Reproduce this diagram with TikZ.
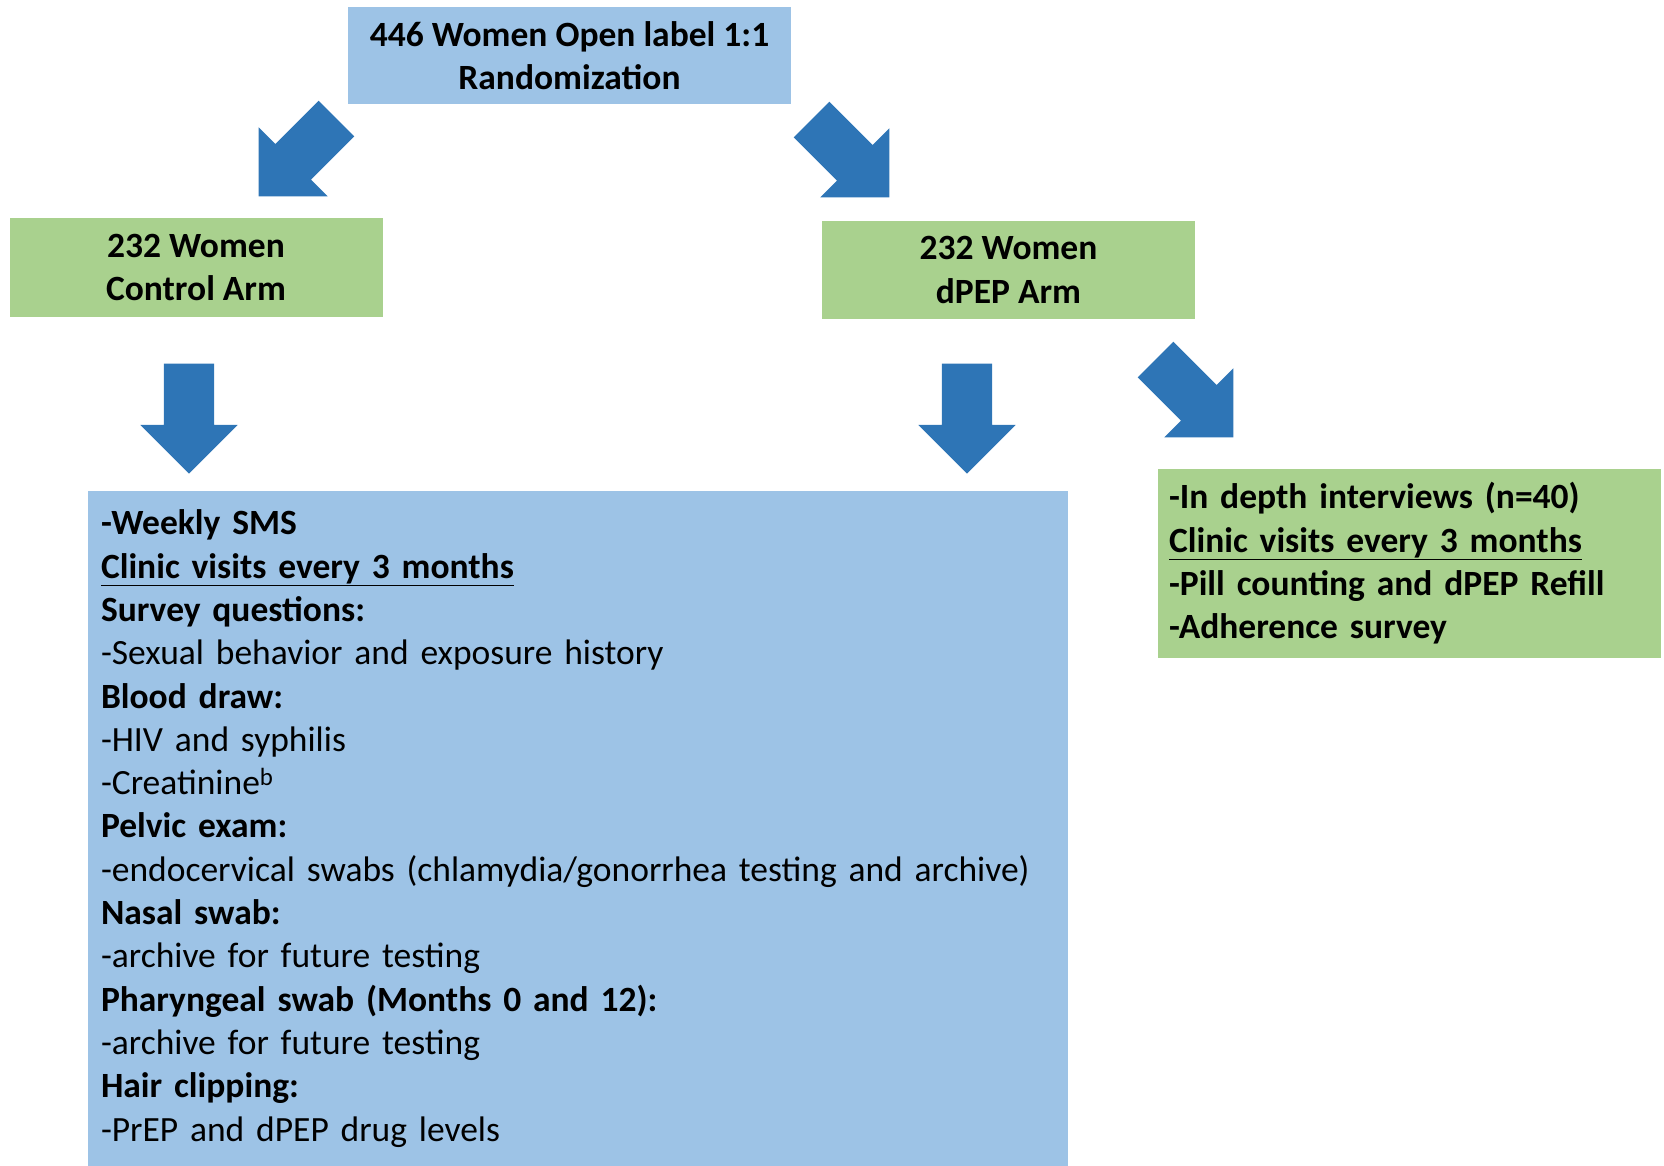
\documentclass[tikz,border=0pt]{standalone}
\usepackage{fontspec}
\setmainfont{Carlito}
\usetikzlibrary{shapes.arrows}
\definecolor{boxblue}{HTML}{9DC3E6}
\definecolor{boxgreen}{HTML}{A9D18E}
\definecolor{arrowblue}{HTML}{2E75B6}
\tikzset{
  txt/.style={font=\fontsize{35.5}{43.3}\selectfont},
  boldtxt/.style={font=\fontsize{35.5}{43.3}\selectfont\bfseries},
  armbox/.style={boldtxt,fill=boxgreen,minimum width=373pt,minimum height=98pt,align=center},
  bigarrow/.style={single arrow,fill=arrowblue,inner xsep=0pt,inner ysep=25pt,minimum height=110pt,
    single arrow head extend=23.5pt,single arrow tip angle=90}
}

\begin{document}
\begin{tikzpicture}[x=1pt,y=-1pt]
        \useasboundingbox (0,0) rectangle (1664,1166);
        \node[boldtxt,fill=boxblue,minimum width=443pt,minimum height=97pt,align=center] (R) at (569.5,55.5) {446 Women Open label 1:1\\Randomization};
        \node[armbox] (C) at (196,267.5) {232 Women\\Control Arm};
        \node[armbox] (D) at (1008.5,270) {232 Women\\dPEP Arm};
        \node[bigarrow,rotate=-135] (A1) at (306.5,148.5) {};
        \node[bigarrow,rotate=-45] (A2) at (841.5,149.5) {};
        \node[bigarrow,rotate=-90] (A3) at (189,406) {};
        \node[bigarrow,rotate=-90] (A4) at (967,406) {};
        \node[bigarrow,rotate=-45] (A5) at (1185.5,389.5) {};
        \node[txt,fill=boxblue,minimum width=980pt,minimum height=675pt,inner xsep=13pt,text width=954pt,align=left] (V) at (578,828.5) {%
          \textbf{-Weekly SMS}\\
          \textbf{\underline{Clinic visits every 3 months}}\\
          \textbf{Survey questions:}\\
          -Sexual behavior and exposure history\\
          \textbf{Blood draw:}\\
          -HIV and syphilis\\
          -Creatinine\textsuperscript{b}\\
          \textbf{Pelvic exam:}\\
          -endocervical swabs (chlamydia/gonorrhea testing and archive)\\
          \textbf{Nasal swab:}\\
          -archive for future testing\\
          \textbf{Pharyngeal swab (Months 0 and 12):}\\
          -archive for future testing\\
          \textbf{Hair clipping:}\\
          -PrEP and dPEP drug levels};
        \node[boldtxt,fill=boxgreen,minimum width=503pt,minimum height=189pt,inner xsep=11pt,text width=481pt,align=left] (I) at (1409.5,563.5) {%
          -In depth interviews (n=40)\\
          \underline{Clinic visits every 3 months}\\
          -Pill counting and dPEP Refill\\
          -Adherence survey};
      \end{tikzpicture}
\end{document}
